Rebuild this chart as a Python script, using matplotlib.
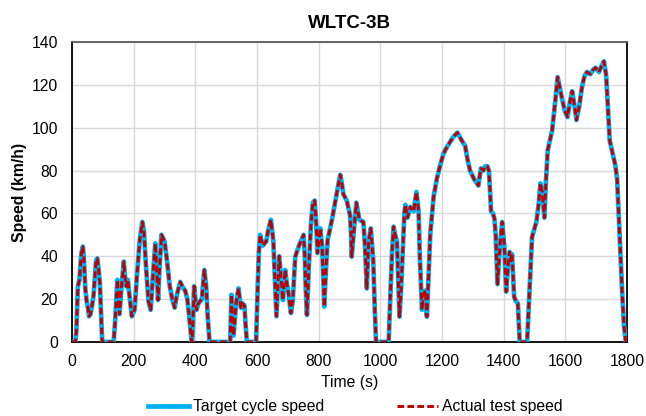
import matplotlib
matplotlib.use("Agg")
import matplotlib.pyplot as plt

# WLTC-3B speed trace, breakpoints (time in s, speed in km/h)
time_s = [0, 11, 14, 19, 24, 30, 35, 38, 43, 47, 52, 55, 60, 65, 70, 78, 82, 86, 90, 95, 98,
          135, 140, 147, 151, 154, 160, 168, 172, 176, 181, 186, 194, 203, 210, 220, 228, 233,
          240, 248, 255, 262, 270, 274, 279, 284, 290, 300, 308, 317, 325, 333, 340, 351, 361,
          367, 374, 380, 388, 390, 396, 400, 404, 410, 421, 429, 435, 440, 446, 513, 517, 520,
          524, 532, 540, 544, 548, 553, 559, 563, 567, 597, 602, 606, 610, 615, 619, 630, 636,
          645, 653, 663, 672, 678, 684, 691, 696, 702, 706, 710, 716, 720, 724, 735, 745, 751,
          755, 758, 762, 768, 775, 781, 787, 792, 796, 805, 811, 815, 818, 824, 829, 843, 853,
          862, 870, 875, 880, 891, 902, 905, 907, 913, 922, 932, 945, 950, 956, 962, 969, 977,
          982, 986, 1027, 1032, 1038, 1043, 1048, 1054, 1058, 1062, 1067, 1072, 1078, 1081,
          1088, 1097, 1108, 1112, 1117, 1124, 1128, 1135, 1140, 1146, 1151, 1156, 1162, 1173,
          1183, 1195, 1205, 1216, 1237, 1250, 1264, 1275, 1283, 1291, 1304, 1318, 1326, 1334,
          1340, 1347, 1352, 1356, 1359, 1365, 1370, 1374, 1380, 1388, 1395, 1402, 1408, 1414,
          1419, 1423, 1427, 1434, 1440, 1446, 1452, 1476, 1484, 1492, 1506, 1514, 1519, 1525,
          1532, 1537, 1543, 1557, 1567, 1575, 1580, 1589, 1598, 1607, 1615, 1622, 1630, 1636,
          1645, 1654, 1662, 1670, 1681, 1690, 1698, 1709, 1718, 1725, 1732, 1736, 1744, 1762,
          1768, 1776, 1784, 1790, 1796, 1800]
target_speed = [0, 0, 5, 26, 29, 41, 44.5, 40, 25, 19.5, 15.7, 12, 13, 17, 22, 38, 39, 34, 28, 10, 0,
                0, 10, 29, 20, 13, 25, 37.5, 30, 26, 29, 22, 12, 15, 30, 48, 56, 52,
                35, 19, 15, 30, 46, 35, 19.6, 35, 50, 47, 38, 26, 20, 16, 22, 28, 25,
                24, 20, 12, 0, 0, 26, 20, 15, 18, 20, 33.6, 26, 12, 0, 0, 22, 12,
                3, 18, 25, 20, 16, 18, 17, 8, 0, 0, 25, 42, 50, 47, 45, 47, 52,
                57, 47, 12, 40, 30, 19.6, 33.6, 28, 22.8, 18, 13.5, 19.6, 30, 39.8, 44.5, 48, 50,
                40, 25, 12.6, 35, 55, 65, 66, 55, 41.5, 53, 45, 30, 16.5, 35, 47.6, 57, 65,
                72, 78, 74, 69, 66, 59, 50, 39.8, 50, 65, 57, 56, 45, 25, 47, 53, 38,
                15, 0, 0, 20, 42, 53.8, 50, 47, 30, 11.8, 24, 40, 60, 64,
                58, 63, 61, 65, 70, 61, 40, 15, 22, 24, 11.8, 30, 50.7, 68,
                76, 83, 88, 91, 95.8, 97.7, 94, 91.5, 85, 80, 76, 73, 81, 80,
                82, 82, 80, 70, 61, 60, 57.6, 50, 27, 45, 56, 45, 23.5, 35,
                42, 38, 41, 21, 19, 18, 0, 0, 25, 49, 56, 65, 74, 70,
                58, 75, 89.6, 98.6, 112, 123.6, 120, 113.7, 108, 105, 112, 117, 110, 103.6,
                110, 119, 124, 126, 125, 127, 128, 126, 129, 131, 125, 115, 94, 82.5,
                76, 50, 24, 8, 0, 0]
# measured trace lies on top of the target everywhere in the picture
actual_speed = list(target_speed)

x_ticks = list(range(0, 1801, 200))
y_ticks = list(range(0, 141, 20))

plt.rcParams["font.family"] = ["Liberation Sans", "DejaVu Sans"]

fig = plt.figure(figsize=(6.46, 4.16), dpi=100)
ax = fig.add_axes([0.1115, 0.178, 0.8591, 0.721])

ax.plot(time_s, target_speed, color="#00B0F0", lw=3.4, label="Target cycle speed", zorder=3)
ax.plot(time_s, actual_speed, color="#C00000", lw=2.1, dashes=(2.3, 1.1),
        label="Actual test speed", zorder=4)

ax.set_xlim(0, 1800)
ax.set_ylim(0, 140)
ax.set_xticks(x_ticks)
ax.set_yticks(y_ticks)
ax.tick_params(length=0, labelsize=11.3, colors="black")
ax.tick_params(axis="y", pad=10)
ax.tick_params(axis="x", pad=9)
ax.grid(True, color="#D9D9D9", lw=1)
ax.set_axisbelow(True)

for side in ["left", "bottom", "right"]:
    ax.spines[side].set_color("black")
    ax.spines[side].set_linewidth(1.3)
ax.spines["top"].set_color("#595959")
ax.spines["top"].set_linewidth(1.3)

ax.set_title("WLTC-3B", fontsize=13.5, fontweight="bold", pad=10)
ax.set_xlabel("Time (s)", fontsize=11.3, labelpad=4)
ax.set_ylabel("Speed (km/h)", fontsize=11.3, fontweight="bold", labelpad=3)

fig.legend(loc="center", bbox_to_anchor=(0.55, 0.022), ncol=2, frameon=False,
           fontsize=11.3, handlelength=2.6, columnspacing=4.6, handletextpad=0.3)

fig.savefig("out.png", dpi=100)
